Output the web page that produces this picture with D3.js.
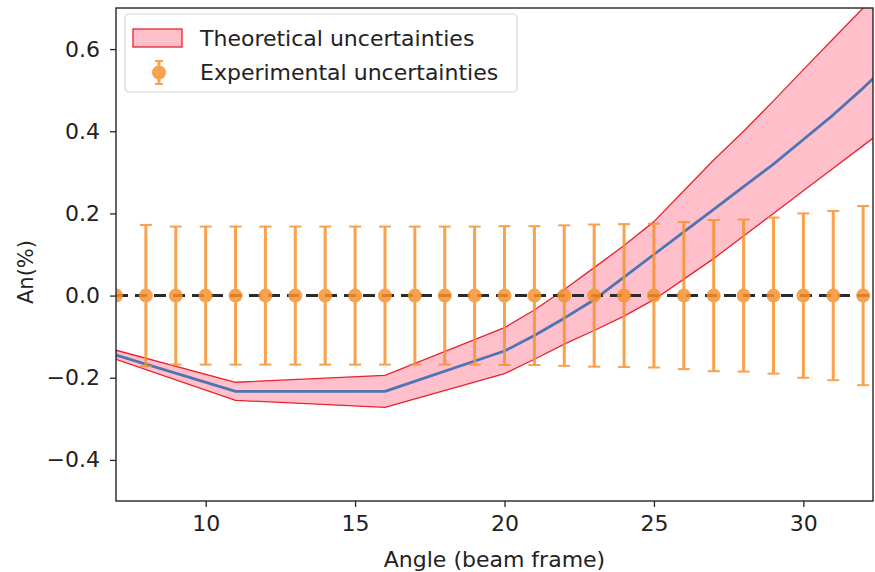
<!DOCTYPE html>
<html>
<head>
<meta charset="utf-8">
<script src="https://cdn.jsdelivr.net/npm/d3@7"></script>
<style>
  html, body { margin: 0; padding: 0; background: #fff; }
  svg { display: block; font-family: "DejaVu Sans", sans-serif; }
</style>
</head>
<body>
<svg id="chart" width="875" height="572"></svg>
<script>
// Experimental points: angle (beam frame) and symmetric uncertainty on An(%)
const expAngles = [7, 8, 9, 10, 11, 12, 13, 14, 15, 16, 17, 18, 19, 20, 21, 22, 23, 24, 25, 26, 27, 28, 29, 30, 31, 32];
const expValues = [0, 0, 0, 0, 0, 0, 0, 0, 0, 0, 0, 0, 0, 0, 0, 0, 0, 0, 0, 0, 0, 0, 0, 0, 0, 0];
const expErrors = [0, 0.172, 0.168, 0.168, 0.168, 0.168, 0.168, 0.168, 0.168, 0.168, 0.168, 0.168, 0.168,
                   0.169, 0.169, 0.171, 0.173, 0.174, 0.175, 0.179, 0.184, 0.185, 0.19, 0.2, 0.206, 0.218];

// Theoretical prediction with its uncertainty band
const thAngles  = [7, 11, 16, 20, 21, 22, 23, 24, 25, 26, 27, 28, 29, 30, 31, 32, 33];
const thCentral = [-0.145, -0.233, -0.233, -0.135, -0.097, -0.055, -0.01, 0.045, 0.1, 0.155, 0.21, 0.265, 0.32, 0.38, 0.44, 0.505, 0.575];
const thUpper   = [-0.133, -0.211, -0.194, -0.078, -0.035, 0.015, 0.068, 0.122, 0.18, 0.255, 0.33, 0.40, 0.474, 0.55, 0.625, 0.70, 0.78];
const thLower   = [-0.155, -0.255, -0.272, -0.19, -0.155, -0.118, -0.085, -0.05, -0.01, 0.04, 0.09, 0.145, 0.2, 0.255, 0.31, 0.365, 0.42];

const xTicks = [10, 15, 20, 25, 30];
const yTicks = [-0.4, -0.2, 0.0, 0.2, 0.4, 0.6];

const xDomain = [7, 32.33];
const yDomain = [-0.5, 0.7];

const FONT = "22px";

const svg = d3.select("#chart");
const plot = { left: 116, right: 873, top: 8, bottom: 501 };

const x = d3.scaleLinear().domain(xDomain).range([plot.left, plot.right]);
const y = d3.scaleLinear().domain(yDomain).range([plot.bottom, plot.top]);

const C = {
  band: "#ffc0cb",
  bandEdge: "#e8232e",
  line: "#4d74b3",
  exp: "#f7922e",
  zero: "#2b2b2b",
  axis: "#262626",
  text: "#222222"
};

svg.append("defs").append("clipPath").attr("id", "plotClip")
  .append("rect")
  .attr("x", plot.left).attr("y", plot.top)
  .attr("width", plot.right - plot.left).attr("height", plot.bottom - plot.top);

const g = svg.append("g").attr("clip-path", "url(#plotClip)");

const th = thAngles.map((a, i) => ({ a, c: thCentral[i], u: thUpper[i], l: thLower[i] }));

// Uncertainty band
g.append("path")
  .datum(th)
  .attr("d", d3.area().x(d => x(d.a)).y0(d => y(d.l)).y1(d => y(d.u)))
  .attr("fill", C.band)
  .attr("stroke", C.bandEdge)
  .attr("stroke-width", 1.3)
  .attr("stroke-linejoin", "round");

// Central prediction
g.append("path")
  .datum(th)
  .attr("d", d3.line().x(d => x(d.a)).y(d => y(d.c)))
  .attr("fill", "none")
  .attr("stroke", C.line)
  .attr("stroke-width", 2.8)
  .attr("stroke-linejoin", "round");

// Zero reference line
g.append("line")
  .attr("x1", plot.left).attr("x2", plot.right)
  .attr("y1", y(0)).attr("y2", y(0))
  .attr("stroke", C.zero)
  .attr("stroke-width", 3)
  .attr("stroke-dasharray", "12,7");

// Experimental error bars
const exp = expAngles.map((a, i) => ({ a, v: expValues[i], e: expErrors[i] }));
const eb = g.append("g").attr("opacity", 0.85);
const pts = eb.selectAll("g.pt").data(exp).join("g").attr("class", "pt");
pts.filter(d => d.e > 0).append("line")
  .attr("x1", d => x(d.a)).attr("x2", d => x(d.a))
  .attr("y1", d => y(d.v - d.e)).attr("y2", d => y(d.v + d.e))
  .attr("stroke", C.exp).attr("stroke-width", 3);
[-1, 1].forEach(s => {
  pts.filter(d => d.e > 0).append("line")
    .attr("x1", d => x(d.a) - 6).attr("x2", d => x(d.a) + 6)
    .attr("y1", d => y(d.v + s * d.e)).attr("y2", d => y(d.v + s * d.e))
    .attr("stroke", C.exp).attr("stroke-width", 2);
});
pts.append("circle")
  .attr("cx", d => x(d.a)).attr("cy", d => y(d.v))
  .attr("r", 7)
  .attr("fill", C.exp);

// Axes
const xAxis = d3.axisBottom(x).tickValues(xTicks).tickFormat(d3.format("d")).tickSize(6).tickPadding(8);
const yAxis = d3.axisLeft(y).tickValues(yTicks)
  .tickFormat(d => d3.format(".1f")(d).replace("-", "\u2212")).tickSize(6).tickPadding(10);

const gx = svg.append("g").attr("transform", `translate(0,${plot.bottom})`).call(xAxis);
const gy = svg.append("g").attr("transform", `translate(${plot.left},0)`).call(yAxis);
[gx, gy].forEach(ax => {
  ax.select(".domain").remove();
  ax.selectAll(".tick line").attr("stroke", C.axis).attr("stroke-width", 1.3);
  ax.selectAll(".tick text").attr("fill", C.text).style("font-size", FONT).style("font-family", "DejaVu Sans, sans-serif");
});

// Frame
svg.append("rect")
  .attr("x", plot.left).attr("y", plot.top)
  .attr("width", plot.right - plot.left).attr("height", plot.bottom - plot.top)
  .attr("fill", "none").attr("stroke", C.axis).attr("stroke-width", 1.4);

// Axis titles
svg.append("text")
  .attr("x", (plot.left + plot.right) / 2).attr("y", 567)
  .attr("text-anchor", "middle").attr("fill", C.text)
  .style("font-size", FONT)
  .text("Angle (beam frame)");
svg.append("text")
  .attr("transform", "translate(33,272) rotate(-90)")
  .attr("text-anchor", "middle").attr("fill", C.text)
  .style("font-size", "21px")
  .text("An(%)");

// Legend
const lg = svg.append("g").attr("transform", "translate(125,14)");
lg.append("rect")
  .attr("x", 0).attr("y", 0).attr("width", 392).attr("height", 78).attr("rx", 4)
  .attr("fill", "#fff").attr("fill-opacity", 0.85)
  .attr("stroke", "#d6d6d6").attr("stroke-width", 1.2);
lg.append("rect")
  .attr("x", 8).attr("y", 15).attr("width", 49).attr("height", 18)
  .attr("fill", C.band).attr("stroke", C.bandEdge).attr("stroke-width", 1.3);
lg.append("text").attr("x", 75).attr("y", 32).attr("fill", C.text).style("font-size", FONT)
  .text("Theoretical uncertainties");
const le = lg.append("g").attr("opacity", 0.85);
le.append("line").attr("x1", 34).attr("x2", 34).attr("y1", 47).attr("y2", 70)
  .attr("stroke", C.exp).attr("stroke-width", 3);
[47, 70].forEach(yy => le.append("line").attr("x1", 30).attr("x2", 38).attr("y1", yy).attr("y2", yy)
  .attr("stroke", C.exp).attr("stroke-width", 2));
le.append("circle").attr("cx", 34).attr("cy", 58.5).attr("r", 7).attr("fill", C.exp);
lg.append("text").attr("x", 75).attr("y", 66).attr("fill", C.text).style("font-size", FONT)
  .text("Experimental uncertainties");
</script>
</body>
</html>
